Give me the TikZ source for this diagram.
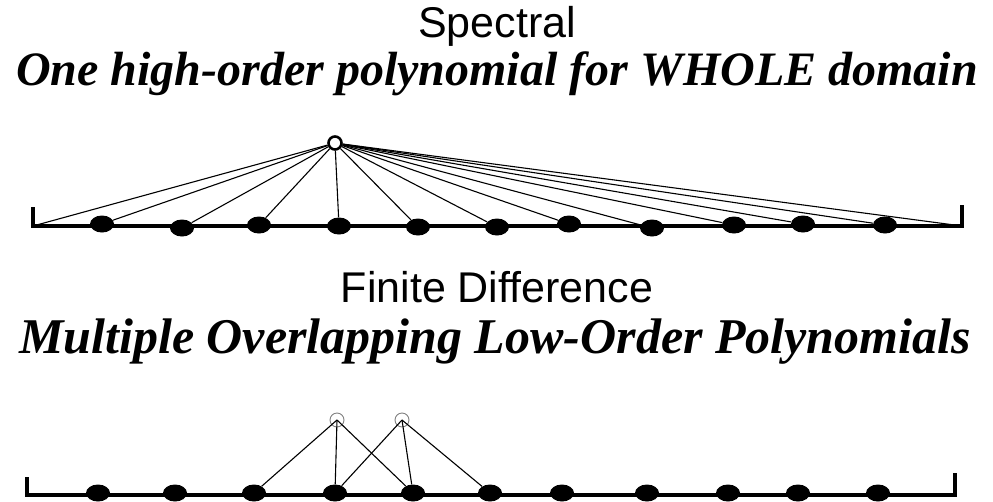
\documentclass[tikz,border=0pt]{standalone}
\usepackage{fontspec}
\setmainfont{Liberation Serif}
\newfontfamily\headfont{Liberation Sans}
\usetikzlibrary{positioning,shapes.geometric}

\begin{document}
\begin{tikzpicture}[x=1pt,y=-1pt,
  head/.style={font=\headfont\fontsize{43}{43}\selectfont,anchor=base,inner sep=0pt},
  sub/.style={font=\fontsize{48}{48}\selectfont\bfseries\itshape,anchor=base,inner sep=0pt},
  dot/.style={ellipse,fill=black,inner sep=0pt,minimum width=24pt,minimum height=17pt},
  src/.style={circle,draw,line width=2.6pt,fill=white,inner sep=0pt,minimum size=13pt},
  hollow/.style={circle,draw=black!50,line width=0.9pt,inner sep=0pt,minimum size=14pt},
  axis/.style={line width=3.5pt},
  fan/.style={line width=1.1pt}]
\useasboundingbox (0,0) rectangle (993,501);
% spectral: one polynomial over all points
\node[head] (spec) at (497,37) {Spectral};
\node[sub] (whole) at (497,85) {One high-order polynomial for WHOLE domain};
\coordinate (lt) at (33,207);\coordinate (lc) at (33,226);
\coordinate (rc) at (962,226);\coordinate (rt) at (962,205);
\draw[axis] (lt) -- (lc) -- (rc) -- (rt);
\foreach \x/\y [count=\i] in {102/224,182/228,259/225,339/226,418/227,497/227,569/224,652/228,734/225,803/224,885/225}
  \node[dot] (a\i) at (\x,\y) {};
\node[src] (s) at (335,143) {};
\draw[fan] (s) -- (lc);
\foreach \i in {1,...,11} \draw[fan] (s) -- (a\i);
\draw[fan] (s) -- (rc);
% finite difference: local stencils
\node[head] (fd) at (497,302) {Finite Difference};
\node[sub,font=\fontsize{50}{50}\selectfont\bfseries\itshape] (multi) at (495,353) {Multiple Overlapping Low-Order Polynomials};
\coordinate (lb) at (27,477);\coordinate (lbc) at (27,495);
\coordinate (rbc) at (955,495);\coordinate (rb) at (955,473);
\draw[axis] (lb) -- (lbc) -- (rbc) -- (rb);
\foreach \x [count=\i] in {98,175,254,335,413,490,562,647,728,798,878}
  \node[dot] (b\i) at (\x,493) {};
\node[hollow] (h1) at (337,420) {};
\node[hollow] (h2) at (402,420) {};
\foreach \i in {3,4,5} \draw[fan] (h1.center) -- (b\i);
\foreach \i in {4,5,6} \draw[fan] (h2.center) -- (b\i);
\end{tikzpicture}
\end{document}
